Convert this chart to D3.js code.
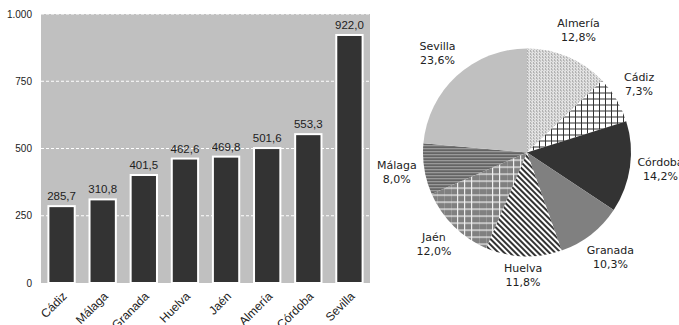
<!DOCTYPE html>
<html>
<head>
<meta charset="utf-8">
<script src="https://cdn.jsdelivr.net/npm/d3@7"></script>
<style>
  html, body { margin: 0; padding: 0; background: #fff; }
  svg { display: block; }
</style>
</head>
<body>
<svg id="chart" width="679" height="325"></svg>
<script>
// ---- data ----
const categories = ["Almería", "Cádiz", "Córdoba", "Granada", "Huelva", "Jaén", "Málaga", "Sevilla"];
const values = [501.6, 285.7, 553.3, 401.5, 462.6, 469.8, 310.8, 922.0];
const yTicks = [0, 250, 500, 750, 1000];

const locale = d3.formatLocale({decimal: ",", thousands: ".", grouping: [3], currency: ["", "€"]});
const fmtVal = locale.format(",.1f");
const fmtTick = locale.format(",.0f");
const fmtPct = locale.format(".1%");

const SANS = "'Liberation Sans', Arial, sans-serif";
const PIEFONT = "'DejaVu Sans', Verdana, sans-serif";

const svg = d3.select("#chart");
const defs = svg.append("defs");

// ---- patterns ----
function pat(id, w, h, bg, draw) {
  const p = defs.append("pattern").attr("id", id).attr("patternUnits", "userSpaceOnUse")
    .attr("width", w).attr("height", h);
  p.append("rect").attr("width", w).attr("height", h).attr("fill", bg);
  draw(p);
}
pat("pDots", 3, 3, "#e2e2e2", p => {
  p.append("rect").attr("x", 0).attr("y", 0).attr("width", 1).attr("height", 1).attr("fill", "#808080");
  p.append("rect").attr("x", 1).attr("y", 1).attr("width", 1).attr("height", 1).attr("fill", "#a8a8a8");
});
pat("pGrid", 6, 6, "#ffffff", p => {
  p.append("rect").attr("x", 0).attr("y", 0).attr("width", 1).attr("height", 6).attr("fill", "#333");
  p.append("rect").attr("x", 0).attr("y", 0).attr("width", 6).attr("height", 1).attr("fill", "#333");
});
pat("pDiag", 4, 4, "#ffffff", p => {
  p.attr("patternTransform", "rotate(-45)");
  p.append("rect").attr("x", 0).attr("y", 0).attr("width", 2).attr("height", 4).attr("fill", "#333");
});
pat("pGreyGrid", 7, 7, "#808080", p => {
  p.append("rect").attr("x", 0).attr("y", 0).attr("width", 1.2).attr("height", 7).attr("fill", "#f0f0f0");
  p.append("rect").attr("x", 0).attr("y", 0).attr("width", 7).attr("height", 1.2).attr("fill", "#f0f0f0");
});
pat("pHoriz", 3, 3, "#a8a8a8", p => {
  p.append("rect").attr("x", 0).attr("y", 0).attr("width", 3).attr("height", 1.3).attr("fill", "#404040");
});
const fills = {
  "Almería": "url(#pDots)", "Cádiz": "url(#pGrid)", "Córdoba": "#333333", "Granada": "#808080",
  "Huelva": "url(#pDiag)", "Jaén": "url(#pGreyGrid)", "Málaga": "url(#pHoriz)", "Sevilla": "#c0c0c0"
};

// ---- bar chart ----
const data = categories.map((c, i) => ({cat: c, val: values[i]}));
const barData = data.slice().sort((a, b) => a.val - b.val);

const plot = {left: 41, right: 370, top: 14, bottom: 283};
const x = d3.scaleBand().domain(barData.map(d => d.cat)).range([plot.left, plot.right]).paddingInner(0.36).paddingOuter(0.18);
const y = d3.scaleLinear().domain([0, 1000]).range([plot.bottom, plot.top]);

const g = svg.append("g");
g.append("rect").attr("x", plot.left).attr("y", plot.top)
  .attr("width", plot.right - plot.left).attr("height", plot.bottom - plot.top).attr("fill", "#c0c0c0");

g.selectAll("line.grid").data(yTicks.filter(t => t > 0)).join("line").attr("class", "grid")
  .attr("x1", plot.left).attr("x2", plot.right)
  .attr("y1", d => y(d)).attr("y2", d => y(d))
  .attr("stroke", "#ffffff").attr("stroke-width", 1).attr("stroke-dasharray", "3,2");

const yAxis = d3.axisLeft(y).tickValues(yTicks).tickFormat(fmtTick).tickSize(0).tickPadding(9);
const ya = g.append("g").attr("transform", `translate(${plot.left},0)`).call(yAxis)
  .attr("font-family", SANS).attr("font-size", 10);
ya.select(".domain").remove();
ya.selectAll("text").attr("fill", "#222");

g.selectAll("rect.bar").data(barData).join("rect").attr("class", "bar")
  .attr("x", d => x(d.cat)).attr("y", d => y(d.val))
  .attr("width", x.bandwidth()).attr("height", d => y(0) - y(d.val))
  .attr("fill", "#333333").attr("stroke", "#ffffff").attr("stroke-width", 2);

g.selectAll("text.val").data(barData).join("text").attr("class", "val")
  .attr("x", d => x(d.cat) + x.bandwidth() / 2).attr("y", d => y(d.val) - 6)
  .attr("text-anchor", "middle").attr("font-family", SANS)
  .attr("font-size", 11.5).attr("fill", "#222").text(d => fmtVal(d.val));

const xAxis = d3.axisBottom(x).tickSize(0).tickPadding(0);
const xa = g.append("g").attr("transform", `translate(0,${plot.bottom})`).call(xAxis)
  .attr("font-family", SANS).attr("font-size", 12);
xa.select(".domain").remove();
xa.selectAll("text")
  .attr("fill", "#222")
  .attr("text-anchor", "end").attr("dy", 0).attr("y", 0)
  .attr("transform", "translate(6,14) rotate(-45)");

// ---- pie chart ----
const cx = 527, cy = 152.5, r = 104;
const pie = d3.pie().value(d => d.val).sort(null);
const arcs = pie(data);
const total = d3.sum(values);
const arc = d3.arc().innerRadius(0).outerRadius(r);
const pg = svg.append("g").attr("transform", `translate(${cx},${cy})`);
pg.selectAll("path").data(arcs).join("path")
  .attr("d", arc).attr("fill", d => fills[d.data.cat]);

const lg = pg.selectAll("g.lab").data(arcs).join("g").attr("class", "lab");
lg.each(function(d) {
  const sel = d3.select(this);
  const t = sel.append("text").attr("text-anchor", "middle")
    .attr("font-family", PIEFONT).attr("font-size", 11).attr("fill", "#222");
  t.append("tspan").attr("x", 0).attr("y", -3).text(d.data.cat);
  t.append("tspan").attr("x", 0).attr("y", 11).text(fmtPct(d.data.val / total));
  const bb = t.node().getBBox();
  const a = (d.startAngle + d.endAngle) / 2;
  const hw = bb.width / 2, hh = 14;
  const R = 110 + Math.abs(Math.sin(a)) * hw + Math.abs(Math.cos(a)) * hh;
  sel.attr("transform", `translate(${R * Math.sin(a)},${-R * Math.cos(a) - 2})`);
});
</script>
</body>
</html>
